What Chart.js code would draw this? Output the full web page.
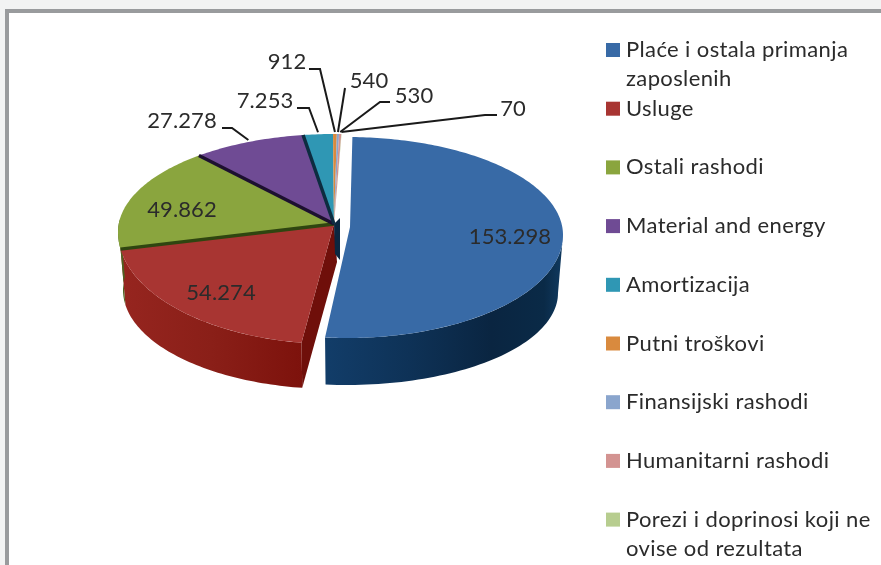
<!DOCTYPE html>
<html>
<head>
<meta charset="utf-8">
<title>Rashodi</title>
<script src="https://cdn.jsdelivr.net/npm/chart.js@4/dist/chart.umd.js"></script>
<style>
    html, body { margin: 0; padding: 0; width: 881px; height: 565px; overflow: hidden; background: #f2f3f3; }
    #frame { position: absolute; left: 5px; top: 9px; width: 900px; height: 600px; background: #fff; border-left: 4px solid #999b9d; border-top: 4px solid #999b9d; }
    #wrap { position: absolute; left: 0; top: 0; width: 881px; height: 565px; }
</style>
</head>
<body>
<div id="frame"></div>
<div id="wrap"><canvas id="pie-chart" width="881" height="565"></canvas></div>
<script>
// ==========================================================================
// Data
// ==========================================================================
const categories = [
    'Plaće i ostala primanja zaposlenih',
    'Usluge',
    'Ostali rashodi',
    'Material and energy',
    'Amortizacija',
    'Putni troškovi',
    'Finansijski rashodi',
    'Humanitarni rashodi',
    'Porezi i doprinosi koji ne ovise od rezultata'
];
const values = [153298, 54274, 49862, 27278, 7253, 912, 540, 530, 70];
const sliceColors = ['#386aa6', '#a83532', '#8aa53e', '#6f4b94', '#2f97b4', '#d98a3e', '#8aa5cd', '#d39391', '#b7cd8f'];

// ==========================================================================
// Layout of the tilted pie
// ==========================================================================
const TEXT_FONT = '22px Lato';
const LABEL_SPACING = '0.1px';
const LEGEND_SPACING = '0.38px';
const TEXT_COLOR = '#2b2b2b';
const pie = { cx: 334, cy: 232, rx: 216, upper: 98, lower: 112, apexY: 224, wallCy: 290, wallRx: 211, wallLower: 99 };
const blueShift = { dx: 13, dy: 3, apexDx: 3, lower: 103, wallLower: 92, exploded: true };
const labelSpots = [
    { x: 510, y: 237 }, { x: 221, y: 293 }, { x: 182, y: 210 },
    { x: 182, y: 121, elbow: [[222, 128], [232, 128]] },
    { x: 265, y: 101, elbow: [[297, 108], [309, 108]] },
    { x: 287, y: 62, elbow: [[309, 69], [320, 69]] },
    { x: 369, y: 81, elbow: [[345, 88]] },
    { x: 414, y: 96, elbow: [[390, 102], [380, 102]] },
    { x: 513, y: 109, elbow: [[497, 115], [485, 115]] }
];
const wallStops = [
    [[0, '#123d69'], [0.35, '#0e3257'], [0.7, '#0a2541'], [0.92, '#0a2a47'], [1, '#103a60']],
    [[0, '#96251f'], [0.5, '#8a1f18'], [1, '#7d120c']],
    [[0, '#4d6321'], [1, '#4d6321']]
];
const edgeColors = { 2: '#2f4510', 3: '#1d1030', 4: '#0d2c40' };

function warp(theta, shift) {
    // the exploded slice and the back half of the pie sit off the true angle because of the perspective
    if (shift.exploded) {
        return theta < Math.PI / 2
            ? theta + 0.025 * (1 - theta / (Math.PI / 2))
            : theta - 0.03 * (theta - Math.PI / 2) / (Math.PI / 2);
    }
    return theta > Math.PI
        ? theta + 0.113 * Math.sin(theta - Math.PI) + 0.035 * (theta - Math.PI) / Math.PI
        : theta;
}

function rimPoint(theta, shift) {
    const phi = warp(theta, shift), cos = Math.cos(phi);
    const ry = cos > 0 ? pie.upper : (shift.lower || pie.lower);
    return { x: pie.cx + (shift.dx || 0) + pie.rx * Math.sin(phi), y: pie.cy + (shift.dy || 0) - ry * cos };
}

function wallPoint(theta, shift) {
    const phi = warp(theta, shift);
    return {
        x: pie.cx + (shift.dx || 0) + pie.wallRx * Math.sin(phi),
        y: pie.wallCy + (shift.dy || 0) - (shift.wallLower || pie.wallLower) * Math.cos(phi)
    };
}

function formatValue(v) {
    return String(v).replace(/\B(?=(\d{3})+(?!\d))/g, '.');
}

function sliceAngles(arc) {
    return { start: arc.startAngle + Math.PI / 2, end: arc.endAngle + Math.PI / 2 };
}

// ==========================================================================
// Plugin: 3D look for the pie, labels with leader lines, legend
// ==========================================================================
const tiltedPie = {
    id: 'tiltedPie',
    beforeDatasetDraw(chart, args) {
        const ctx = chart.ctx;
        const arcs = args.meta.data;
        const shifts = arcs.map((a, i) => (i === 0 ? blueShift : {}));

        // side walls
        [0, 1, 2].forEach(i => {
            const a = sliceAngles(arcs[i]);
            const from = Math.max(a.start, Math.PI / 2), to = Math.min(a.end, Math.PI * 1.5);
            const pts = [], low = [];
            for (let k = 0; k <= 60; k++) {
                const t = from + (to - from) * k / 60;
                pts.push(rimPoint(t, shifts[i]));
                low.push(wallPoint(t, shifts[i]));
            }
            const all = pts.concat(low.reverse());
            const xs = all.map(p => p.x);
            const grad = ctx.createLinearGradient(Math.min(...xs), 0, Math.max(...xs), 0);
            wallStops[i].forEach(s => grad.addColorStop(s[0], s[1]));
            ctx.beginPath();
            all.forEach((p, k) => (k ? ctx.lineTo(p.x, p.y) : ctx.moveTo(p.x, p.y)));
            ctx.closePath();
            ctx.fillStyle = grad;
            ctx.fill();
        });

        // cut faces left open by the exploded slice
        const redStart = sliceAngles(arcs[1]).start;
        const top = rimPoint(redStart, {}), bot = wallPoint(redStart, {});
        ctx.beginPath();
        ctx.moveTo(pie.cx, pie.apexY);
        ctx.lineTo(top.x, top.y);
        ctx.lineTo(bot.x, bot.y);
        ctx.lineTo(pie.cx + 3, pie.apexY + 38);
        ctx.closePath();
        ctx.fillStyle = '#6f0f0a';
        ctx.fill();
        ctx.beginPath();
        ctx.moveTo(pie.cx, pie.apexY);
        ctx.lineTo(pie.cx + 6, pie.apexY - 6);
        ctx.lineTo(pie.cx + 6, pie.apexY + 36);
        ctx.lineTo(pie.cx + 1, pie.apexY + 30);
        ctx.closePath();
        ctx.fillStyle = '#0b2740';
        ctx.fill();

        // top surfaces
        arcs.forEach((arc, i) => {
            const a = sliceAngles(arc), s = shifts[i];
            const ax = pie.cx + (s.dx || 0) + (s.apexDx || 0), ay = pie.apexY + (s.dy || 0);
            const n = Math.max(2, Math.ceil((a.end - a.start) * 60));
            ctx.beginPath();
            ctx.moveTo(ax, ay);
            for (let k = 0; k <= n; k++) {
                const p = rimPoint(a.start + (a.end - a.start) * k / n, s);
                ctx.lineTo(p.x, p.y);
            }
            ctx.closePath();
            ctx.fillStyle = sliceColors[i];
            ctx.fill();
        });

        // dark seams between the slices
        Object.keys(edgeColors).forEach(i => {
            const p = rimPoint(sliceAngles(arcs[i]).start, {});
            ctx.beginPath();
            ctx.moveTo(pie.cx, pie.apexY);
            ctx.lineTo(p.x, p.y);
            ctx.strokeStyle = edgeColors[i];
            ctx.lineWidth = 3.5;
            ctx.stroke();
        });
        return false; // the default circular arcs are replaced by the above
    },
    afterDatasetsDraw(chart) {
        const ctx = chart.ctx;
        const arcs = chart.getDatasetMeta(0).data;
        ctx.save();
        ctx.font = TEXT_FONT;
        ctx.fillStyle = TEXT_COLOR;
        ctx.textBaseline = 'middle';

        // data labels
        ctx.letterSpacing = LABEL_SPACING;
        ctx.textAlign = 'center';
        values.forEach((v, i) => {
            const spot = labelSpots[i];
            ctx.fillText(formatValue(v), spot.x, spot.y);
            if (!spot.elbow) return;
            const a = sliceAngles(arcs[i]);
            const end = rimPoint((a.start + a.end) / 2, {});
            ctx.beginPath();
            spot.elbow.forEach((p, k) => (k ? ctx.lineTo(p[0], p[1]) : ctx.moveTo(p[0], p[1])));
            ctx.lineTo(end.x, end.y - 2);
            ctx.strokeStyle = '#1a1a1a';
            ctx.lineWidth = 2;
            ctx.stroke();
        });

        // legend, wrapped by hand since the built-in one keeps to one line
        ctx.letterSpacing = LEGEND_SPACING;
        ctx.textAlign = 'left';
        categories.forEach((name, i) => {
            const y = 50 + i * 58.7;
            ctx.fillStyle = sliceColors[i];
            ctx.fillRect(606, y - 7, 14, 14);
            ctx.fillStyle = TEXT_COLOR;
            let line = '', row = 0;
            name.split(' ').forEach(word => {
                const next = line ? line + ' ' + word : word;
                if (ctx.measureText(next).width > 250) {
                    ctx.fillText(line, 626, y + row * 29);
                    row++;
                    line = word;
                } else {
                    line = next;
                }
            });
            ctx.fillText(line, 626, y + row * 29);
        });
        ctx.restore();
    }
};

// ==========================================================================
// Chart Initialization
// ==========================================================================
new Chart(document.getElementById('pie-chart').getContext('2d'), {
    type: 'pie',
    data: {
        labels: categories,
        datasets: [{ data: values, backgroundColor: sliceColors, borderWidth: 0 }]
    },
    options: {
        responsive: false,
        animation: false,
        plugins: { legend: { display: false }, tooltip: { enabled: false } }
    },
    plugins: [tiltedPie]
});
</script>
</body>
</html>
